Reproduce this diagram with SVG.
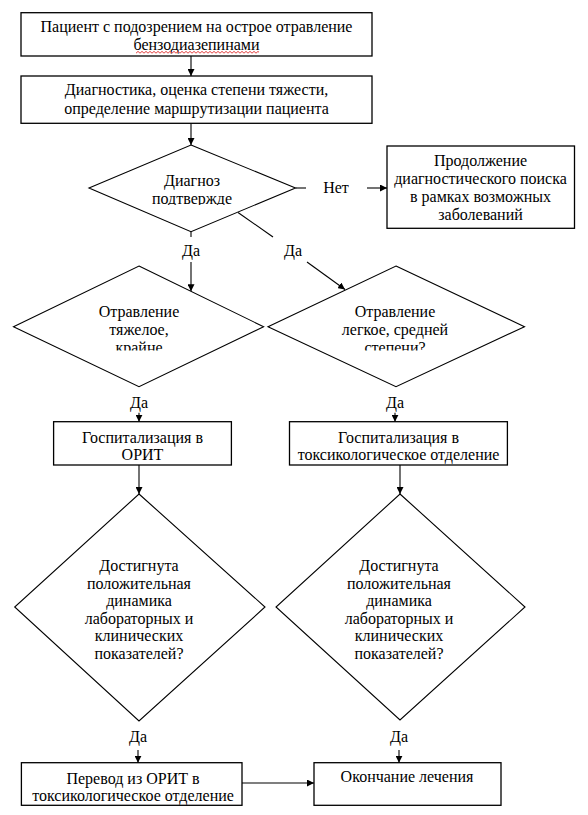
<svg xmlns="http://www.w3.org/2000/svg" width="588" height="815" viewBox="0 0 588 815">
<style>
.box{fill:#fff;stroke:#000;stroke-width:1.3}
.dia{fill:#fff;stroke:#000;stroke-width:1.1}
.ln{fill:none;stroke:#000;stroke-width:1.1}
text{font-family:"Liberation Serif","Times New Roman",serif;font-size:16px;fill:#000;text-anchor:middle}
</style>
<defs>
<marker id="ah" viewBox="0 0 10 10" refX="10" refY="5" markerWidth="7" markerHeight="7" markerUnits="userSpaceOnUse" orient="auto">
<path d="M0 0 L10 5 L0 10 Z" fill="#000"/>
</marker>
<pattern id="wave" width="4" height="3" patternUnits="userSpaceOnUse">
<path d="M0 2.5 L1 1 L2 0.5 L3 1 L4 2.5" fill="none" stroke="#e02828" stroke-width="0.8"/>
</pattern>
<clipPath id="c1"><rect x="100" y="160" width="190" height="45"/></clipPath>
<clipPath id="c2"><rect x="0" y="290" width="588" height="60.5"/></clipPath>
</defs>
<rect width="588" height="815" fill="#fff"/>

<g id="connectors">
<line class="ln" x1="191" y1="56" x2="191" y2="76" marker-end="url(#ah)"/>
<line class="ln" x1="191" y1="123.3" x2="191" y2="145" marker-end="url(#ah)"/>
<line class="ln" x1="295.5" y1="188" x2="306" y2="188"/>
<line class="ln" x1="367" y1="188" x2="387" y2="188" marker-end="url(#ah)"/>
<text x="336" y="193">Нет</text>
<line class="ln" x1="191" y1="231.7" x2="191" y2="237"/>
<text x="191" y="256">Да</text>
<line class="ln" x1="191" y1="262" x2="191" y2="291.3" marker-end="url(#ah)"/>
<line class="ln" x1="238" y1="212.5" x2="273" y2="237"/>
<text x="293" y="256">Да</text>
<line class="ln" x1="307" y1="262" x2="345" y2="289.5" marker-end="url(#ah)"/>
<text x="139" y="408">Да</text>
<line class="ln" x1="139" y1="412.7" x2="139" y2="421.7" marker-end="url(#ah)"/>
<text x="395" y="408">Да</text>
<line class="ln" x1="395" y1="412.7" x2="395" y2="421.7" marker-end="url(#ah)"/>
<line class="ln" x1="139" y1="465" x2="139" y2="494" marker-end="url(#ah)"/>
<line class="ln" x1="400" y1="465" x2="400" y2="494" marker-end="url(#ah)"/>
<text x="138" y="742">Да</text>
<line class="ln" x1="138" y1="750" x2="138" y2="762.7" marker-end="url(#ah)"/>
<text x="399" y="742">Да</text>
<line class="ln" x1="399" y1="750" x2="399" y2="762.7" marker-end="url(#ah)"/>
<line class="ln" x1="242" y1="783" x2="314" y2="783" marker-end="url(#ah)"/>
</g>

<g id="n1">
<rect class="box" x="21" y="12.7" width="351" height="43.3"/>
<text x="196.5" y="32">Пациент с подозрением на острое отравление</text>
<text x="196.5" y="50">бензодиазепинами</text>
<rect x="136" y="51" width="123" height="3" fill="url(#wave)"/>
</g>

<g id="n2">
<rect class="box" x="21" y="76" width="351" height="47.3"/>
<text x="196.5" y="95">Диагностика, оценка степени тяжести,</text>
<text x="196.5" y="114">определение маршрутизации пациента</text>
</g>

<g id="d1">
<polygon class="dia" points="191,145 295.5,188 191,231.7 89,188"/>
<g clip-path="url(#c1)">
<text x="192" y="186">Диагноз</text>
<text x="192" y="204">подтвержде</text>
</g>
</g>

<g id="n3">
<rect class="box" x="387" y="146" width="187.5" height="82.3"/>
<text x="480.5" y="166">Продолжение</text>
<text x="480.5" y="184">диагностического поиска</text>
<text x="480.5" y="202">в рамках возможных</text>
<text x="480.5" y="220">заболеваний</text>
</g>

<g id="d2">
<polygon class="dia" points="139,266 263.6,326.7 139,386.7 13.5,326.7"/>
<g clip-path="url(#c2)">
<text x="139" y="317">Отравление</text>
<text x="139" y="335">тяжелое,</text>
<text x="139" y="353">крайне</text>
</g>
</g>

<g id="d3">
<polygon class="dia" points="396,266 524.5,326.7 396,386.7 268,326.7"/>
<g clip-path="url(#c2)">
<text x="395" y="317">Отравление</text>
<text x="395" y="335">легкое, средней</text>
<text x="395" y="353">степени?</text>
</g>
</g>

<g id="n4">
<rect class="box" x="53.6" y="421.7" width="177.8" height="43.3"/>
<text x="142.5" y="442.7">Госпитализация в</text>
<text x="142.5" y="460">ОРИТ</text>
</g>

<g id="n5">
<rect class="box" x="289.5" y="421.7" width="217.9" height="43.3"/>
<text x="398.5" y="442.7">Госпитализация в</text>
<text x="398.5" y="460">токсикологическое отделение</text>
</g>

<g id="d4">
<polygon class="dia" points="139,494 265,607 139,721 14.7,607"/>
<text x="139" y="571">Достигнута</text>
<text x="139" y="588.6">положительная</text>
<text x="139" y="606.2">динамика</text>
<text x="139" y="623.8">лабораторных и</text>
<text x="139" y="641.4">клинических</text>
<text x="139" y="659">показателей?</text>
</g>

<g id="d5">
<polygon class="dia" points="400,494 525,607 400,720 276,607"/>
<text x="399" y="571">Достигнута</text>
<text x="399" y="588.6">положительная</text>
<text x="399" y="606.2">динамика</text>
<text x="399" y="623.8">лабораторных и</text>
<text x="399" y="641.4">клинических</text>
<text x="399" y="659">показателей?</text>
</g>

<g id="n6">
<rect class="box" x="21.4" y="762.7" width="220.6" height="42.6"/>
<text x="133" y="784">Перевод из ОРИТ в</text>
<text x="133" y="801">токсикологическое отделение</text>
</g>

<g id="n7">
<rect class="box" x="314" y="762.7" width="187" height="42.6"/>
<text x="407" y="782">Окончание лечения</text>
</g>
</svg>
